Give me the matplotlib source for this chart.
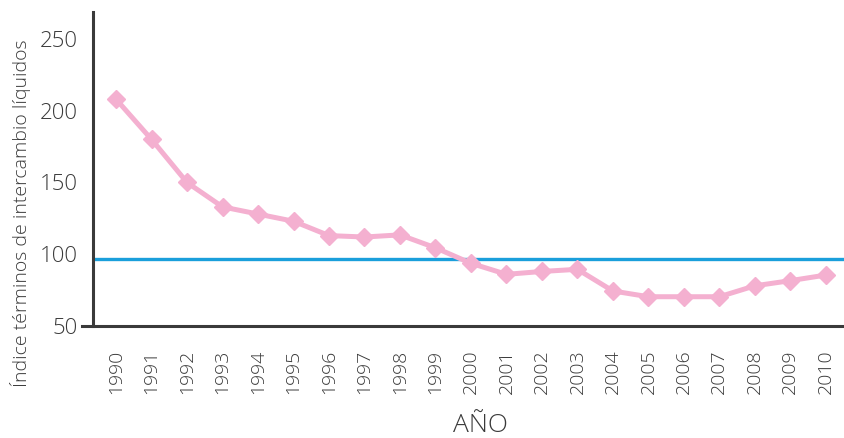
import matplotlib
matplotlib.use("Agg")
import matplotlib.pyplot as plt

years = list(range(1990, 2011))
indice = [208, 180, 150, 133, 128, 123, 113, 112, 113.5, 104.5, 93.7,
          86, 88, 89.5, 74.4, 70.4, 70.4, 70.4, 78, 81.6, 85.5]
baseline = 96.7
yticks = [50, 100, 150, 200, 250]

plt.rcParams["font.family"] = ["Open Sans", "DejaVu Sans"]
plt.rcParams["font.weight"] = "light"
text_color = "#3a3a3a"
pink = "#f4b0d0"
blue = "#1a9fdb"

x_left, x_right, spine_x = 1989.04, 2010.54, 1989.34

fig = plt.figure(figsize=(8.45, 4.38), dpi=100)
ax = fig.add_axes([82 / 845, 1 - 326 / 438, 1 - 82 / 845, (326 - 12) / 438])

ax.hlines(baseline, spine_x, x_right, color=blue, lw=2.4, zorder=2)
ax.plot(years, indice, color=pink, lw=3.6, marker="D", markersize=9.5,
        markerfacecolor=pink, markeredgecolor=pink, zorder=3)

ax.set_xlim(x_left, x_right)
ax.set_ylim(50, 268.8)

for side in ("top", "right"):
    ax.spines[side].set_visible(False)
ax.spines["left"].set_position(("data", spine_x))
for side in ("left", "bottom"):
    ax.spines[side].set_color(text_color)
    ax.spines[side].set_linewidth(2.2)

ax.set_yticks(yticks)
ax.set_yticklabels([str(v) for v in yticks])
ax.tick_params(axis="y", length=0, pad=11, labelsize=16, colors=text_color)
ax.set_xticks(years)
ax.set_xticklabels([str(y) for y in years], rotation=90, va="top")
ax.tick_params(axis="x", length=0, pad=17, labelsize=14, colors=text_color)

fig.text(21 / 845, 1 - 213 / 438, "Índice términos de intercambio líquidos",
         rotation=90, ha="center", va="center", fontsize=14, color=text_color)
fig.text(480 / 845, 1 - 426 / 438, "AÑO", ha="center", va="center",
         fontsize=19, color=text_color)

fig.savefig("out.png", dpi=100)
